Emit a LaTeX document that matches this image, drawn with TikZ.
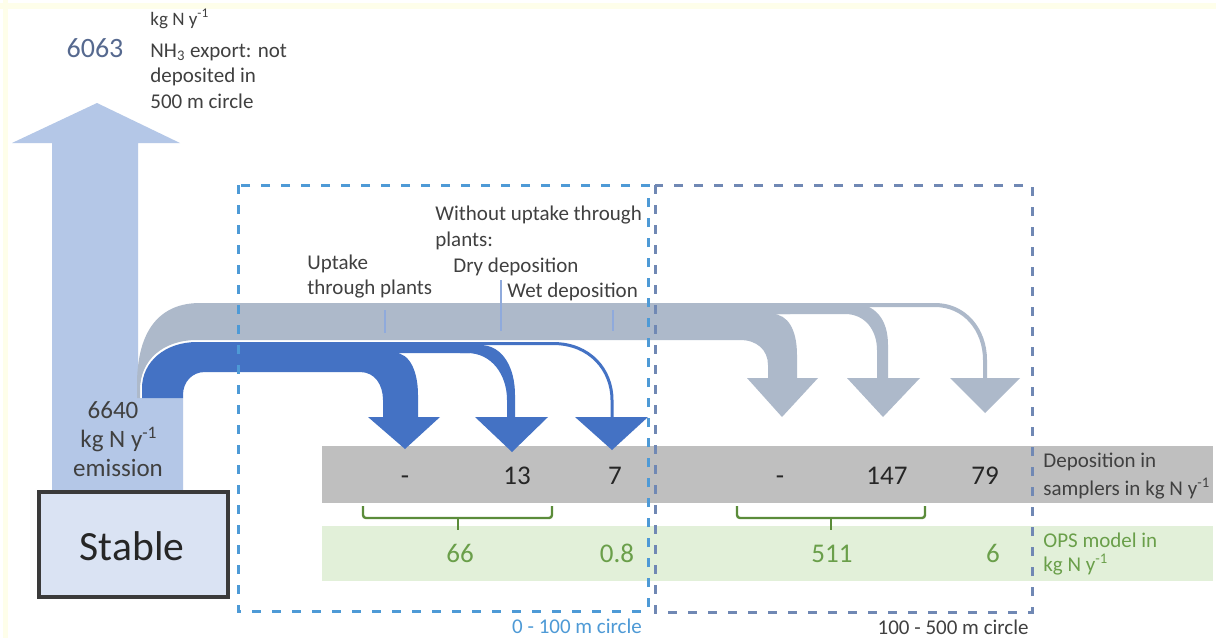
\documentclass[tikz,border=0pt]{standalone}
\usepackage{fontspec}
\setmainfont{Carlito}
\definecolor{cup}{HTML}{B4C7E7}
\definecolor{cgray}{HTML}{ADB9CA}
\definecolor{cblue}{HTML}{4472C4}
\definecolor{csamp}{HTML}{BFBFBF}
\definecolor{cgreen}{HTML}{E2F0D9}
\definecolor{gtext}{HTML}{6A9F4A}
\definecolor{cbrack}{HTML}{5B8C3A}
\definecolor{labgray}{HTML}{404040}
\definecolor{numdark}{HTML}{262626}
\definecolor{cexport}{HTML}{56698F}
\definecolor{boxone}{HTML}{4E9AD6}
\definecolor{boxtwo}{HTML}{7088B4}
\definecolor{ctick}{HTML}{8FAADC}
\definecolor{cstable}{HTML}{DAE3F3}
\definecolor{cframe}{HTML}{3A3A3A}
\definecolor{cyel}{HTML}{FEFEEA}
\begin{document}
\begin{tikzpicture}[x=0.5pt,y=-0.5pt,
  lab/.style={font=\fontsize{10.5}{13}\selectfont, text=labgray, inner sep=0, anchor=base west},
  smalllab/.style={font=\fontsize{9.5}{12}\selectfont, text=labgray, inner sep=0, anchor=base west},
  num/.style={font=\fontsize{13.5}{16}\selectfont, text=numdark, inner sep=0, anchor=base},
  gnum/.style={font=\fontsize{13.5}{16}\selectfont, text=gtext, inner sep=0, anchor=base},
  emis/.style={font=\fontsize{12.5}{15}\selectfont, text=labgray, inner sep=0, anchor=base},
  upflow/.style={fill=cup},
  gflow/.style={fill=cgray},
  bflow/.style={fill=cblue},
  circleone/.style={draw=boxone, line width=1.5pt, dash pattern=on 4.5pt off 5.5pt},
  circletwo/.style={draw=boxtwo, line width=1.5pt, dash pattern=on 4.5pt off 5.5pt},
  leader/.style={draw=ctick, line width=1.1pt},
  bracket/.style={draw=cbrack, line width=1.2pt, rounded corners=1.5pt}]
\useasboundingbox (0,0) rectangle (1216,638);
\fill[white] (0,0) rectangle (1216,638);
\fill[cyel] (0,3) rectangle (1216,9);
\fill[cyel] (3,0) rectangle (8,638);

% bands
\fill[csamp] (322,446) rectangle (1213,503);
\fill[cgreen] (322,526) rectangle (1213,581);

% export arrow
\path[upflow] (52,490) -- (52,143) -- (12,143) -- (97,103) -- (180,143) -- (138,143)
  -- (138,398) -- (183,398) -- (183,490) -- cycle;

% gray flow
\path[gflow] (137,398) -- (137,385) .. controls (137,330) and (160,303) .. (200,303)
  -- (790,303) -- (790,314) -- (772,314) .. controls (788,314) and (797,330) .. (797,355)
  -- (797,378) -- (818,378) -- (782,417) -- (747,378) -- (768,378) -- (768,365)
  .. controls (768,350) and (757,340) .. (740,340) -- (197,340)
  .. controls (163,340) and (140,360) .. (140,390) -- (140,398) -- cycle;
\path[gflow] (760,303) -- (850,303) .. controls (876,303) and (888,320) .. (888,345)
  -- (888,378) -- (920,378) -- (883,417) -- (847,378) -- (877,378) -- (877,350)
  .. controls (877,330) and (865,314) .. (845,314) -- (760,314) -- cycle;
\draw[cgray, line width=2pt] (840,305) -- (935,305) .. controls (965,305) and (985,330) .. (985,360) -- (985,382);
\path[gflow] (950,378) -- (1020,378) -- (985,413) -- cycle;

% blue flow
\path[bflow] (142,398) -- (142,388) .. controls (142,362) and (165,342) .. (197,342)
  -- (470,342) -- (470,353) -- (395,353) .. controls (410,353) and (418,372) .. (418,395)
  -- (418,417) -- (440,417) -- (405,449) -- (368,417) -- (383,417) -- (383,400)
  .. controls (383,385) and (375,372) .. (360,372) -- (205,372)
  .. controls (192,372) and (183,382) .. (183,395) -- (183,398) -- cycle;
\path[bflow] (460,345) -- (480,345) .. controls (503,345) and (515,368) .. (515,395)
  -- (515,417) -- (548,417) -- (512,452) -- (475,417) -- (507,417) -- (507,400)
  .. controls (507,375) and (492,353) .. (467,353) -- (460,353) -- cycle;
\draw[cblue, line width=1.5pt] (465,343.5) -- (553,343.5) .. controls (590,343.5) and (612,370) .. (612,400) -- (612,420);
\path[bflow] (575,417) -- (648,417) -- (612,450) -- cycle;

% leader ticks
\coordinate (ta1) at (385,310); \coordinate (tb1) at (385,333);
\coordinate (ta2) at (501,280); \coordinate (tb2) at (501,331);
\coordinate (ta3) at (613,310); \coordinate (tb3) at (613,331);
\draw[leader] (ta1) -- (tb1);
\draw[leader] (ta2) -- (tb2);
\draw[leader] (ta3) -- (tb3);

% brackets
\coordinate (bl1) at (363,506); \coordinate (br1) at (552,506);
\coordinate (bm1) at (458,518); \coordinate (bt1) at (458,530);
\draw[bracket] (bl1) -- (363,518) -- (552,518) -- (br1);
\draw[bracket] (bm1) -- (bt1);
\coordinate (bl2) at (737,506); \coordinate (br2) at (925,506);
\coordinate (bm2) at (831,518); \coordinate (bt2) at (831,530);
\draw[bracket] (bl2) -- (737,518) -- (925,518) -- (br2);
\draw[bracket] (bm2) -- (bt2);

% stable
\node[draw=cframe, line width=2pt, fill=cstable, minimum width=189\pgflinewidth, inner sep=0,
  minimum width=94.5pt, minimum height=52.5pt] (stable) at (133.5,544.5) {};
\node[font=\fontsize{20.8}{24}\selectfont, text=numdark, inner sep=0, anchor=base] (stabletxt) at (132,560) {Stable};

% dashed circles
\draw[circleone] (238,185) rectangle (648,611);
\draw[circletwo] (655,185) rectangle (1032,612);

% texts
\node[font=\fontsize{14}{16}\selectfont, text=cexport, inner sep=0, anchor=base] (exp) at (95,57) {6063};
\node[smalllab] (expu) at (150,25) {kg N y\textsuperscript{-1}};
\node[lab] (exp1) at (150,57) {NH\textsubscript{3} export: not};
\node[lab] (exp2) at (150,82) {deposited in};
\node[lab] (exp3) at (150,108) {500 m circle};

\node[emis] (em1) at (113,418) {6640};
\node[emis] (em2) at (119,447) {kg N y\textsuperscript{-1}};
\node[emis] (em3) at (118,476) {emission};

\node[lab] (up1) at (307,269) {Uptake};
\node[lab] (up2) at (307,294) {through plants};
\node[lab] (wo1) at (435,220) {Without uptake through};
\node[lab] (wo2) at (435,246) {plants:};
\node[lab] (dry) at (453,272) {Dry deposition};
\node[lab] (wet) at (507,297) {Wet deposition};

\node[num] (s1) at (405,484) {-};
\node[num] (s2) at (517,484) {13};
\node[num] (s3) at (615,484) {7};
\node[num] (s4) at (780,484) {-};
\node[num] (s5) at (887,484) {147};
\node[num] (s6) at (985,484) {79};

\node[gnum] (o1) at (460,562) {66};
\node[gnum] (o2) at (617,562) {0.8};
\node[gnum] (o3) at (832,562) {511};
\node[gnum] (o4) at (993,562) {6};

\node[lab] (dep1) at (1043,467) {Deposition in};
\node[lab] (dep2) at (1043,495) {samplers in kg N y\textsuperscript{-1}};
\node[lab, text=gtext] (ops1) at (1043,547) {OPS model in};
\node[lab, text=gtext] (ops2) at (1043,571) {kg N y\textsuperscript{-1}};

\node[lab, text=boxone, anchor=base] (c1) at (577,633) {0 - 100 m circle};
\node[lab, anchor=base east] (c2) at (1029,634) {100 - 500 m circle};
\end{tikzpicture}
\end{document}
